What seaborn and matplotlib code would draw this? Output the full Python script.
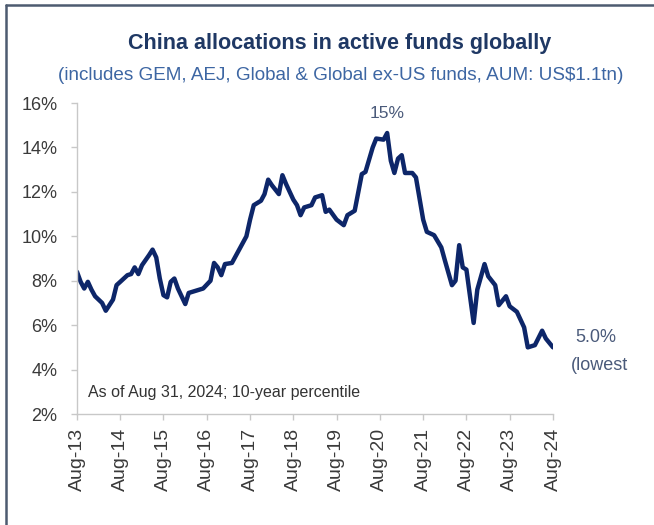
import matplotlib
matplotlib.use("Agg")
import matplotlib.pyplot as plt
from matplotlib.lines import Line2D
from matplotlib.ticker import FuncFormatter
import seaborn as sns
import pandas as pd

# ---- data ----
months = [
    "2013-08", "2013-09", "2013-10", "2013-11", "2013-12", "2014-01", "2014-03", "2014-04",
    "2014-06", "2014-07", "2014-08", "2014-10", "2014-11", "2014-12", "2015-01", "2015-02",
    "2015-04", "2015-05", "2015-06", "2015-07", "2015-08", "2015-09", "2015-10", "2015-11",
    "2015-12", "2016-02", "2016-03", "2016-05", "2016-07", "2016-09", "2016-10", "2016-11",
    "2016-12", "2017-01", "2017-03", "2017-05", "2017-07", "2017-08", "2017-09", "2017-11",
    "2017-12", "2018-01", "2018-02", "2018-04", "2018-05", "2018-06", "2018-08", "2018-09",
    "2018-10", "2018-11", "2019-01", "2019-02", "2019-04", "2019-05", "2019-06", "2019-08",
    "2019-10", "2019-11", "2020-01", "2020-03", "2020-04", "2020-06", "2020-07", "2020-09",
    "2020-10", "2020-11", "2020-12", "2021-01", "2021-02", "2021-03", "2021-05", "2021-06",
    "2021-08", "2021-09", "2021-11", "2022-01", "2022-02", "2022-04", "2022-05", "2022-06",
    "2022-07", "2022-08", "2022-10", "2022-11", "2023-01", "2023-02", "2023-04", "2023-05",
    "2023-07", "2023-08", "2023-10", "2023-12", "2024-01", "2024-03", "2024-05", "2024-06",
    "2024-08",
]
allocation = [
    8.40, 7.95, 7.65, 7.95, 7.60, 7.30, 7.00, 6.65,
    7.15, 7.80, 7.95, 8.25, 8.30, 8.60, 8.30, 8.70,
    9.15, 9.40, 9.05, 8.10, 7.35, 7.25, 7.95, 8.10,
    7.65, 6.95, 7.45, 7.55, 7.65, 8.00, 8.80, 8.60,
    8.25, 8.75, 8.80, 9.40, 10.00, 10.75, 11.40, 11.60,
    11.90, 12.55, 12.30, 11.90, 12.75, 12.35, 11.65, 11.40,
    10.95, 11.30, 11.40, 11.75, 11.85, 11.10, 11.20, 10.75,
    10.50, 10.95, 11.15, 12.80, 12.90, 14.00, 14.40, 14.35,
    14.65, 13.40, 12.85, 13.50, 13.65, 12.85, 12.85, 12.65,
    10.75, 10.20, 10.05, 9.50, 8.90, 7.80, 8.00, 9.60,
    8.60, 8.50, 6.10, 7.60, 8.75, 8.20, 7.80, 6.90,
    7.30, 6.85, 6.60, 5.90, 5.00, 5.10, 5.75, 5.40,
    5.00,
]
tick_years = list(range(2013, 2025))
tick_labels = [f"Aug-{y % 100:02d}" for y in tick_years]
y_ticks = [2, 4, 6, 8, 10, 12, 14, 16]

title = "China allocations in active funds globally"
subtitle = "(includes GEM, AEJ, Global & Global ex-US funds, AUM: US$1.1tn)"
peak_label = "15%"
last_label = "5.0%"
last_note = "(lowest"
footnote = "As of Aug 31, 2024; 10-year percentile"

df = pd.DataFrame({"date": pd.to_datetime(months), "alloc": allocation})

# ---- style ----
sns.set_theme(style="white")
plt.rcParams["font.family"] = ["Liberation Sans", "DejaVu Sans"]

fig = plt.figure(figsize=(6.54, 5.25), dpi=100)
fig.patch.set_facecolor("white")
ax = fig.add_axes([0.1177, 0.2114, 0.8456 - 0.1177, 0.8038 - 0.2114])

sns.lineplot(data=df, x="date", y="alloc", ax=ax, color="#0d2669",
             linewidth=3.2, solid_joinstyle="round", solid_capstyle="round")

ax.set_xlim(pd.Timestamp("2013-08-01"), pd.Timestamp("2024-08-01"))
ax.set_ylim(2, 16)
ax.set_yticks(y_ticks)
ax.yaxis.set_major_formatter(FuncFormatter(lambda v, p: f"{v:.0f}%"))
ax.set_xticks([pd.Timestamp(f"{y}-08-01") for y in tick_years])
ax.set_xticklabels(tick_labels, rotation=90)
ax.set_xlabel("")
ax.set_ylabel("")

for s in ["top", "right"]:
    ax.spines[s].set_visible(False)
for s in ["left", "bottom"]:
    ax.spines[s].set_color("#c8c8c8")
    ax.spines[s].set_linewidth(1.0)

ax.tick_params(axis="y", which="major", direction="out", length=4, width=1,
               color="#c8c8c8", labelsize=13, labelcolor="#3a3a3a", pad=10, left=True)
ax.tick_params(axis="x", which="major", direction="out", length=4, width=1,
               color="#c8c8c8", labelsize=14, labelcolor="#3a3a3a", pad=6, bottom=True)

# annotations
ax.text(pd.Timestamp("2020-10-01"), 15.55, peak_label, ha="center", va="center",
        fontsize=12.5, color="#4a5a7a")
fig.text(575 / 654, 1 - 338 / 525, last_label, ha="left", va="center",
         fontsize=13, color="#4a5a7a")
fig.text(571 / 654, 1 - 365 / 525, last_note, ha="left", va="center",
         fontsize=13, color="#4a5a7a")
fig.text(88 / 654, 1 - 392 / 525, footnote, ha="left", va="center",
         fontsize=11.5, color="#333333")

# titles
fig.text(340 / 654, 1 - 43 / 525, title, ha="center", va="center",
         fontsize=15.5, fontweight="bold", color="#1f3864")
fig.text(341 / 654, 1 - 76 / 525, subtitle, ha="center", va="center",
         fontsize=13.6, color="#3d66a3")

# frame lines (top and left)
fig.add_artist(Line2D([6 / 654, 6 / 654], [0, 1 - 5 / 525], transform=fig.transFigure,
                      color="#4d5b70", linewidth=1.8))
fig.add_artist(Line2D([6 / 654, 1], [1 - 5 / 525, 1 - 5 / 525], transform=fig.transFigure,
                      color="#4d5b70", linewidth=1.8))

fig.savefig("out.png", dpi=100, facecolor="white")
